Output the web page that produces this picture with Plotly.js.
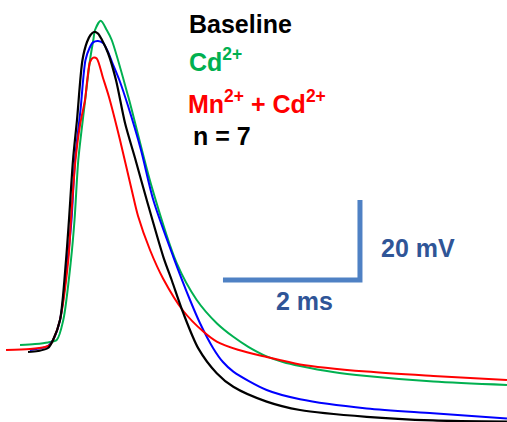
<!DOCTYPE html>
<html>
<head>
<meta charset="utf-8">
<script src="https://cdn.plot.ly/plotly-3.0.1.min.js"></script>
<style>
html,body{margin:0;padding:0;background:#fff;}
#chart{width:507px;height:422px;}
</style>
</head>
<body>
<div id="chart"></div>
<script>
// Time (ms) and membrane potential (mV)
const baselineT = [0.409,0.555,0.701,0.774,0.876,0.964,1.007,1.066,1.124,1.204,1.270,1.321,1.372,1.431,1.489,1.577,1.693,1.825,1.971,2.142,2.384,2.511,2.676,2.895,3.164,3.406,3.893,4.380,5.353,6.321,7.401];
const baselineV = [-62.5,-62.25,-61.5,-59.5,-54.5,-39.5,-29.5,-14.5,-4.5,10.5,15,16.75,17.5,17.1,15.5,12.25,5.5,-5.25,-14,-24.5,-38.7,-44.75,-52.8,-61.6,-67.8,-71.2,-74.9,-77,-78.7,-79.6,-79.9];

const cdT = [0.292,0.511,0.701,0.828,0.924,1.036,1.088,1.143,1.226,1.314,1.362,1.387,1.470,1.558,1.631,1.873,2.215,2.580,2.872,3.164,3.406,3.625,3.893,4.131,4.380,4.861,5.353,6.326,7.401];
const cdV = [-60.75,-60.5,-60.1,-59.5,-54.5,-39.5,-29.5,-14.5,-2,10.5,15.5,18,20.3,18,15.5,1.3,-21.2,-40.3,-49.5,-55.3,-58.7,-61.2,-63.6,-65,-66,-67.5,-68.5,-69.9,-70.75];

const mnCdT = [0.088,0.438,0.657,0.730,0.788,0.876,0.997,1.036,1.102,1.168,1.241,1.274,1.314,1.362,1.412,1.504,1.591,1.752,1.923,2.015,2.190,2.384,2.676,2.968,3.164,3.474,3.893,4.380,5.353,6.326,7.401];
const mnCdV = [-62,-61.75,-61.25,-60.75,-59,-54.5,-39.5,-29.5,-14.5,-5.75,0.5,5.5,10,11.1,10.9,6,1.25,-9.5,-22,-28.5,-37,-44.25,-52.25,-57.4,-59.9,-61.95,-63.75,-65.6,-67.4,-68.5,-69.5];

const blueT = [0.438,0.584,0.701,0.774,0.876,0.988,1.044,1.095,1.175,1.248,1.307,1.358,1.431,1.504,1.577,1.635,1.742,1.873,2.058,2.238,2.530,2.774,2.920,3.114,3.255,3.406,3.893,4.380,5.353,6.321,7.401];
const blueV = [-62,-61.6,-61,-59.5,-54.5,-39.5,-29.5,-14.5,-2,10.5,13.5,14.9,15.25,14.75,12.5,10,5.5,-1.2,-12,-24.5,-38.7,-49.5,-55.3,-61.6,-65,-67.4,-72,-74.3,-76.6,-77.8,-79.1];

// Scale bar: 2 ms horizontal, 20 mV vertical
const scaleBarT = [3.255, 5.255, 5.255];
const scaleBarV = [-44.5, -44.5, -24.5];

const legendLabels = ["Baseline", "Cd<sup>2+</sup>", "Mn<sup>2+</sup> + Cd<sup>2+</sup>", "n = 7"];
const scaleLabels = ["2 ms", "20 mV"];

const lineShape = {shape: 'spline', smoothing: 0.8};
const traces = [
  {x: cdT, y: cdV, mode: 'lines', line: Object.assign({color: '#00b050', width: 2}, lineShape), hoverinfo: 'skip'},
  {x: blueT, y: blueV, mode: 'lines', line: Object.assign({color: '#0000ff', width: 2}, lineShape), hoverinfo: 'skip'},
  {x: mnCdT, y: mnCdV, mode: 'lines', line: Object.assign({color: '#ff0000', width: 2}, lineShape), hoverinfo: 'skip'},
  {x: baselineT, y: baselineV, mode: 'lines', line: Object.assign({color: '#000000', width: 2.2}, lineShape), hoverinfo: 'skip'},
  {x: scaleBarT, y: scaleBarV, mode: 'lines', line: {color: '#4f81c4', width: 5}, hoverinfo: 'skip'}
];

const f = (c, s) => ({family: 'Arial, "Liberation Sans", sans-serif', size: s, color: c, weight: 'bold'});
const annotations = [
  {text: legendLabels[0], x: 187/507, y: 1 - 24/422, font: f('#000000', 25)},
  {text: legendLabels[1], x: 187/507, y: 1 - 60/422, font: f('#00b050', 25)},
  {text: legendLabels[2], x: 186/507, y: 1 - 102/422, font: f('#ff0000', 25)},
  {text: legendLabels[3], x: 191/507, y: 1 - 136/422, font: f('#000000', 25)},
  {text: scaleLabels[0], x: 304/507, y: 1 - 301/422, font: f('#2f5597', 25), xanchor: 'center'},
  {text: scaleLabels[1], x: 418/507, y: 1 - 248/422, font: f('#2f5597', 25), xanchor: 'center'}
].map(a => Object.assign({xref: 'paper', yref: 'paper', xanchor: 'left', yanchor: 'middle', showarrow: false}, a));

const layout = {
  width: 507, height: 422,
  margin: {l: 0, r: 0, t: 0, b: 0, pad: 0},
  paper_bgcolor: '#ffffff', plot_bgcolor: '#ffffff',
  showlegend: false,
  xaxis: {range: [0, 507/68.5], visible: false, fixedrange: true},
  yaxis: {range: [-80, 25.5], visible: false, fixedrange: true},
  annotations: annotations
};

Plotly.newPlot('chart', traces, layout, {staticPlot: true, displayModeBar: false});
</script>
</body>
</html>
